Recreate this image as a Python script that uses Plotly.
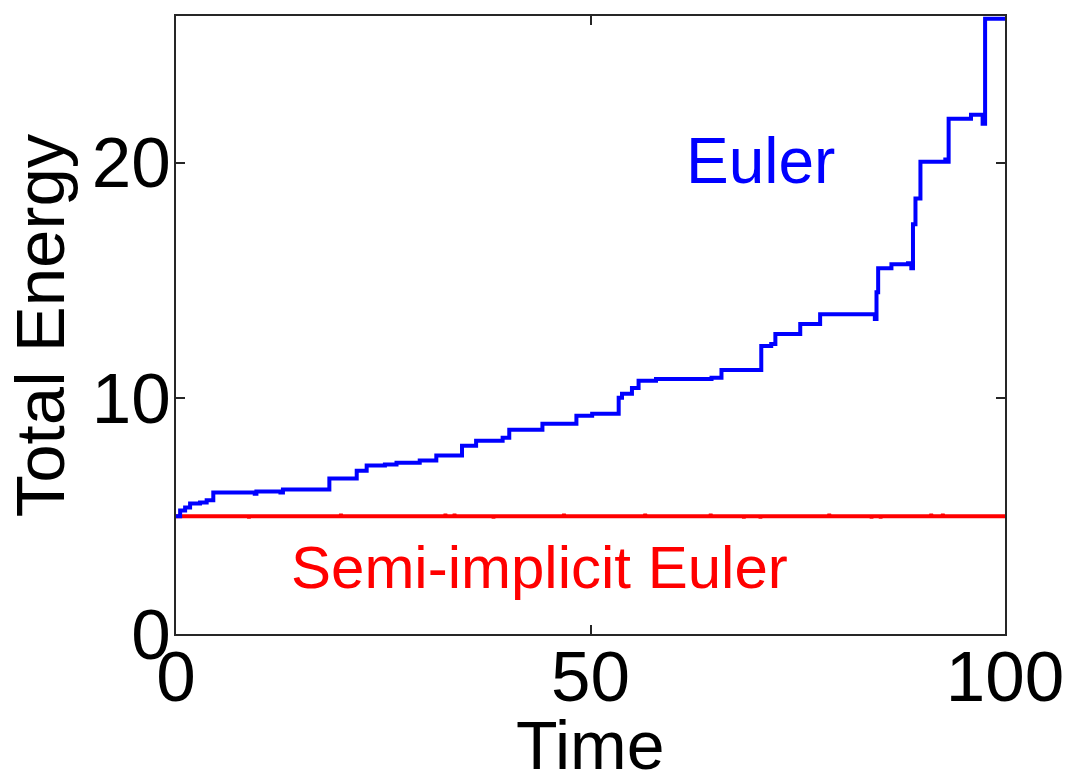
import plotly.graph_objects as go

# Euler total energy (step-like growth)
euler_time = [0, 0.5, 1.1, 1.7, 2.9, 3.7, 4.5, 9.5, 9.7, 12.6, 12.9, 18.5, 21.8, 23.0, 25.2, 26.6,
              29.4, 31.4, 34.5, 36.2, 39.4, 40.2, 44.2, 48.3, 50.2, 53.4, 53.8, 55.0, 55.8, 57.9,
              64.6, 65.8, 70.6, 71.8, 72.3, 75.3, 77.7, 84.3, 84.5, 84.7, 86.3, 88.3, 88.7, 88.9,
              89.2, 89.8, 92.8, 93.1, 93.2, 95.9, 97.3, 97.6, 100]
euler_energy = [5.0, 5.24, 5.37, 5.54, 5.58, 5.67, 6.0, 5.95, 6.05, 6.0, 6.13, 6.6, 6.93, 7.15, 7.19, 7.27,
                7.36, 7.57, 7.99, 8.2, 8.33, 8.67, 8.92, 9.26, 9.34, 10.02, 10.19, 10.44, 10.74, 10.82,
                10.87, 11.2, 12.22, 12.3, 12.73, 13.15, 13.57, 13.36, 14.5, 15.52, 15.69, 15.73, 15.52, 17.38,
                18.48, 20.04, 20.13, 20.04, 21.86, 22.03, 21.65, 26.1, 26.1]

# Semi-implicit Euler total energy (essentially constant with tiny wiggles)
semi_time = [0, 8.7, 8.8, 8.9, 19.8, 19.9, 20.0, 32.4, 32.5, 32.6, 33.5, 33.6, 33.7, 38.2, 38.3, 38.4,
             46.7, 46.8, 46.9, 56.5, 56.6, 56.7, 64.4, 64.5, 64.6, 68.4, 68.5, 68.6, 70.4, 70.5, 70.6,
             78.7, 78.8, 78.9, 83.8, 83.9, 84.0, 84.9, 85.0, 85.1, 91.0, 91.1, 91.2, 92.4, 92.5, 92.6, 100]
semi_energy = [5.0, 5.0, 4.93, 5.0, 5.0, 5.07, 5.0, 5.0, 5.07, 5.0, 5.0, 5.07, 5.0, 5.0, 4.93, 5.0,
               5.0, 5.07, 5.0, 5.0, 5.07, 5.0, 5.0, 5.07, 5.0, 5.0, 4.93, 5.0, 5.0, 4.93, 5.0,
               5.0, 5.07, 5.0, 5.0, 4.93, 5.0, 5.0, 4.93, 5.0, 5.0, 5.07, 5.0, 5.0, 5.07, 5.0, 5.0]

x_ticks = [0, 50, 100]
y_ticks = [0, 10, 20]
x_range = [0, 100]
y_range = [0, 26.22]

FONT = "Liberation Sans, Arial, sans-serif"

fig = go.Figure()
fig.add_trace(go.Scatter(x=semi_time, y=semi_energy, mode="lines",
                         line=dict(color="#ff0000", width=4), showlegend=False))
fig.add_trace(go.Scatter(x=euler_time, y=euler_energy, mode="lines", line_shape="hv",
                         line=dict(color="#0000ff", width=4), showlegend=False))

axis_common = dict(showline=True, linecolor="#262626", linewidth=2, mirror="ticks",
                   ticks="inside", ticklen=9, tickwidth=2, tickcolor="#262626",
                   showgrid=False, zeroline=False,
                   tickfont=dict(family=FONT, size=71, color="black"))

fig.update_xaxes(range=x_range, tickvals=x_ticks, ticklabelstandoff=-20, **axis_common)
fig.update_yaxes(range=y_range, tickvals=y_ticks, ticklabelstandoff=-11, **axis_common)

fig.add_annotation(x=70.5, y=20.05, xref="x", yref="y", text="Euler", showarrow=False,
                   xanchor="center", yanchor="middle",
                   font=dict(family=FONT, size=64, color="#0000ff"))
fig.add_annotation(x=43.8, y=2.83, xref="x", yref="y", text="Semi-implicit Euler", showarrow=False,
                   xanchor="center", yanchor="middle",
                   font=dict(family=FONT, size=60, color="#ff0000"))

fig.add_annotation(x=-0.1637, y=0.5, xref="paper", yref="paper", text="Total Energy",
                   showarrow=False, textangle=-90, xanchor="center", yanchor="middle",
                   font=dict(family=FONT, size=69, color="black"))
fig.add_annotation(x=0.5, y=-0.179, xref="paper", yref="paper", text="Time",
                   showarrow=False, xanchor="center", yanchor="middle",
                   font=dict(family=FONT, size=68, color="black"))

fig.update_layout(width=1062, height=765, margin=dict(l=168, r=63, t=6, b=139),
                  paper_bgcolor="white", plot_bgcolor="white")

fig.write_html("out.html")
